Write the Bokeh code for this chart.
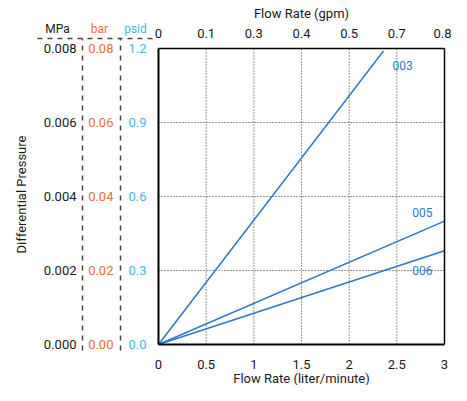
from bokeh.plotting import figure
from bokeh.models import (LinearAxis, Range1d, FixedTicker, Label, Arrow, ColumnDataSource)
from bokeh.core.properties import value
from bokeh.embed import file_html
from bokeh.resources import INLINE

# ---- data ----
series_names = ["003", "005", "006"]
flow_lpm_end = [2.36, 3.0, 3.0]          # liter/minute at line end
dp_psid_end = [1.19, 0.50, 0.38]          # psid at line end
x_ticks = [0, 0.5, 1, 1.5, 2, 2.5, 3]
x_tick_labels = ["0", "0.5", "1", "1.5", "2", "2.5", "3"]
gpm_tick_labels = ["0", "0.1", "0.3", "0.4", "0.5", "0.7", "0.8"]
psid_ticks = [0.0, 0.3, 0.6, 0.9, 1.2]
psid_labels = ["0.0", "0.3", "0.6", "0.9", "1.2"]
bar_ticks = [0.0, 0.02, 0.04, 0.06, 0.08]
bar_labels = ["0.00", "0.02", "0.04", "0.06", "0.08"]
mpa_ticks = [0.0, 0.002, 0.004, 0.006, 0.008]
mpa_labels = ["0.000", "0.002", "0.004", "0.006", "0.008"]
unit_headers = ["MPa", "bar", "psid"]

FONT = "Roboto"
BLUE = "#2f78c4"
ORANGE = "#e8703a"
CYAN = "#4ab6e2"
DARK = "#1a1a1a"
DASH = "#444444"

# ---- layout geometry (pixels) ----
W, H = 451, 385
FX0, FX1 = 158, 444      # plot box left/right in canvas px
FY0, FY1 = 41, 337       # plot box bottom/top measured from canvas bottom
xmin, xmax = x_ticks[0], x_ticks[-1]
ymin, ymax = psid_ticks[0], psid_ticks[-1]
sx = (FX1 - FX0) / (xmax - xmin)
sy = (FY1 - FY0) / (ymax - ymin)
def px2x(px):
    return xmin + (px - FX0) / sx
def py2y(py):   # py measured from canvas bottom
    return ymin + (py - FY0) / sy

bar_f = bar_ticks[-1] / psid_ticks[-1]
mpa_f = mpa_ticks[-1] / psid_ticks[-1]

x0, x1 = px2x(0), px2x(W)
y0, y1 = py2y(0), py2y(H)

p = figure(width=W, height=H,
           output_backend="svg", toolbar_location=None,
           x_range=Range1d(x0, x1), y_range=Range1d(y0, y1),
           x_axis_location=None, y_axis_location=None,
           min_border_left=0, min_border_right=0, min_border_top=0, min_border_bottom=0)
p.outline_line_color = None
p.grid.visible = False
p.background_fill_color = "white"
p.border_fill_color = "white"
p.extra_y_ranges = {"bar": Range1d(y0 * bar_f, y1 * bar_f), "mpa": Range1d(y0 * mpa_f, y1 * mpa_f)}

# dotted grid lines inside the plot box
gxs = x_ticks[1:-1]
gys = psid_ticks[1:-1]
p.segment(x0=gxs, y0=[ymin] * len(gxs), x1=gxs, y1=[ymax] * len(gxs),
          line_color="#333333", line_dash="1 2", line_width=1)
p.segment(x0=[xmin] * len(gys), y0=gys, x1=[xmax] * len(gys), y1=gys,
          line_color="#333333", line_dash="1 2", line_width=1)

def style_axis(ax, color):
    ax.major_tick_out = 0
    ax.major_tick_in = 0
    ax.minor_tick_out = 0
    ax.minor_tick_in = 0
    ax.major_label_text_font = FONT
    ax.major_label_text_font_size = "13px"
    ax.major_label_text_color = color
    ax.axis_label_text_font = FONT
    ax.axis_label_text_font_size = "13px"
    ax.axis_label_text_font_style = "normal"
    ax.axis_label_text_color = DARK

# bottom x axis
xa = LinearAxis(ticker=FixedTicker(ticks=x_ticks), fixed_location=ymin, bounds=(xmin, xmax),
                major_label_overrides={t: l for t, l in zip(x_ticks, x_tick_labels)})
style_axis(xa, DARK)
xa.axis_line_width = 2
xa.axis_line_color = "black"
xa.major_label_standoff = 15
xa.axis_label = "Flow Rate (liter/minute)"
xa.axis_label_standoff = -1
p.add_layout(xa, "below")

# top x axis (gpm)
ta = LinearAxis(ticker=FixedTicker(ticks=x_ticks), fixed_location=ymax, bounds=(xmin, xmax),
                major_label_overrides={t: l for t, l in zip(x_ticks, gpm_tick_labels)})
style_axis(ta, DARK)
ta.axis_line_color = "black"
ta.axis_line_width = 1.5
ta.major_label_standoff = 11
ta.axis_label = "Flow Rate (gpm)"
ta.axis_label_standoff = 5
p.add_layout(ta, "above")

# right edge of the plot box
ra = LinearAxis(ticker=FixedTicker(ticks=[]), fixed_location=xmax, bounds=(ymin, ymax))
style_axis(ra, DARK)
ra.axis_line_color = "black"
ra.axis_line_width = 1.5
p.add_layout(ra, "right")

# psid axis (plot box left edge)
ya = LinearAxis(ticker=FixedTicker(ticks=psid_ticks), fixed_location=xmin, bounds=(ymin, ymax),
                major_label_overrides={t: l for t, l in zip(psid_ticks, psid_labels)})
style_axis(ya, CYAN)
ya.axis_line_width = 2
ya.axis_line_color = "black"
ya.major_label_standoff = 12
p.add_layout(ya, "left")

dash_lo, dash_hi = py2y(FY0 - 6), py2y(FY1 + 10)

# bar axis
ba = LinearAxis(y_range_name="bar", ticker=FixedTicker(ticks=bar_ticks),
                fixed_location=px2x(120), bounds=(dash_lo * bar_f, dash_hi * bar_f),
                major_label_overrides={t: l for t, l in zip(bar_ticks, bar_labels)})
style_axis(ba, ORANGE)
ba.axis_line_color = DASH
ba.axis_line_dash = "5 5"
ba.axis_line_width = 1.5
ba.major_label_standoff = 7
p.add_layout(ba, "left")

# MPa axis
ma = LinearAxis(y_range_name="mpa", ticker=FixedTicker(ticks=mpa_ticks),
                fixed_location=px2x(82), bounds=(dash_lo * mpa_f, dash_hi * mpa_f),
                major_label_overrides={t: l for t, l in zip(mpa_ticks, mpa_labels)})
style_axis(ma, DARK)
ma.axis_line_color = DASH
ma.axis_line_dash = "5 5"
ma.axis_line_width = 1.5
ma.major_label_standoff = 6
ma.axis_label = "Differential Pressure"
ma.axis_label_standoff = 12
p.add_layout(ma, "left")

# lines
for name, xe, ye in zip(series_names, flow_lpm_end, dp_psid_end):
    p.line([0, xe], [0, ye], line_color=BLUE, line_width=1.5)

# series labels anchored at line ends
offs = {"003": (9, 15, "left"), "005": (-12, -9, "right"), "006": (-12, 20, "right")}
src = ColumnDataSource(dict(x=flow_lpm_end, y=dp_psid_end, t=series_names,
                            xo=[offs[n][0] for n in series_names],
                            yo=[offs[n][1] for n in series_names],
                            al=[offs[n][2] for n in series_names]))
p.text(x="x", y="y", text="t", source=src, x_offset="xo", y_offset="yo",
       text_align="al", text_baseline="middle", text_color=BLUE,
       text_font=value(FONT), text_font_size="12px")

# headers for the unit columns
for txt, hx, col in zip(unit_headers, [57, 99, 135], [DARK, ORANGE, CYAN]):
    p.add_layout(Label(x=px2x(hx), y=py2y(FY1 + 20), text=txt,
                       text_align="center", text_baseline="middle", text_color=col,
                       text_font=FONT, text_font_size="12px"))

p.add_layout(Arrow(x_start=px2x(37), y_start=dash_hi, x_end=px2x(155), y_end=dash_hi, end=None,
                   line_color=DASH, line_dash="5 5", line_width=1.5))

open("out.html", "w").write(file_html(p, INLINE))
